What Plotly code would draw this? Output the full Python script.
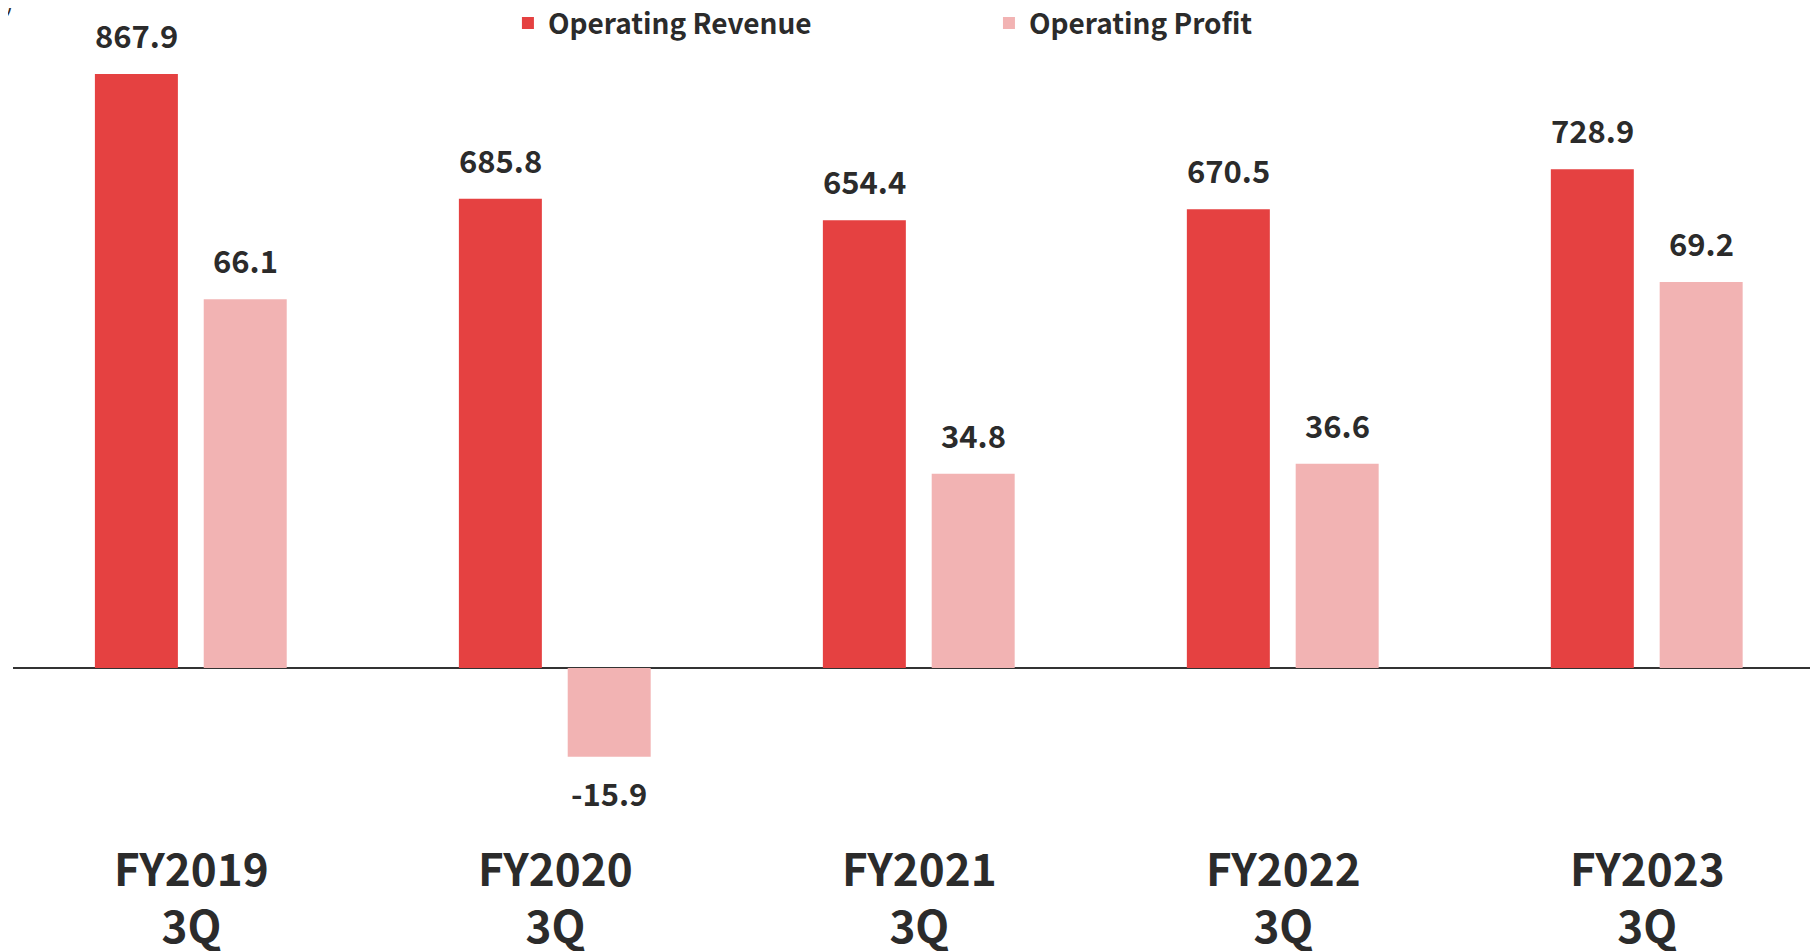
import plotly.graph_objects as go

categories = ["FY2019<br>3Q", "FY2020<br>3Q", "FY2021<br>3Q", "FY2022<br>3Q", "FY2023<br>3Q"]
revenue = [867.9, 685.8, 654.4, 670.5, 728.9]
profit = [66.1, -15.9, 34.8, 36.6, 69.2]
revenue_name = "Operating Revenue"
profit_name = "Operating Profit"
unit_label = "(Billion yen)"

RED = "#E54141"
PINK = "#F2B3B3"
TXT = "#2B2B2B"
FONT = "Noto Sans CJK JP"

W = 0.228
OFF_R = -0.265
OFF_P = 0.034

fig = go.Figure()
fig.add_trace(go.Bar(x=categories, y=revenue, name=revenue_name, width=W, offset=OFF_R,
                     marker=dict(color=RED, line=dict(width=0)), yaxis="y", legend="legend",
                     hoverinfo="y+name"))
fig.add_trace(go.Bar(x=categories, y=profit, name=profit_name, width=W, offset=OFF_P,
                     marker=dict(color=PINK, line=dict(width=0)), yaxis="y2", legend="legend2",
                     hoverinfo="y+name"))

annotations = []
for i, v in enumerate(revenue):
    annotations.append(dict(x=i + OFF_R + W / 2, y=v, xref="x", yref="y", text=f"{v:.1f}",
                            showarrow=False, yanchor="bottom", yshift=15,
                            font=dict(family=FONT, size=31, color=TXT, weight="bold")))
for i, v in enumerate(profit):
    annotations.append(dict(x=i + OFF_P + W / 2, y=v, xref="x", yref="y2", text=f"{v:.1f}",
                            showarrow=False, yanchor="bottom" if v >= 0 else "top",
                            yshift=15 if v >= 0 else -11,
                            font=dict(family=FONT, size=31, color=TXT, weight="bold")))
annotations.append(dict(x=0.00166, y=0.985, xref="paper", yref="paper", text=unit_label,
                        showarrow=False, xanchor="right", yanchor="bottom",
                        font=dict(family=FONT, size=24, color=TXT)))

legend_font = dict(family=FONT, size=28, color=TXT, weight="bold")

fig.update_layout(
    width=1810, height=943,
    margin=dict(l=5, r=0, t=0, b=143, autoexpand=False),
    paper_bgcolor="white", plot_bgcolor="white",
    barmode="overlay",
    showlegend=True,
    font=dict(family=FONT, color=TXT),
    xaxis=dict(type="category", range=[-0.49, 4.469], showgrid=False, zeroline=False,
               showline=False, ticks="", ticklabelstandoff=33,
               tickfont=dict(family=FONT, size=44, color=TXT, weight="bold")),
    yaxis=dict(range=[-204.6, 964.5], showgrid=False, showticklabels=False, showline=False,
               zeroline=True, zerolinecolor="#333333", zerolinewidth=2, ticks=""),
    yaxis2=dict(range=[-25.09, 118.3], overlaying="y", showgrid=False, showticklabels=False,
                showline=False, zeroline=False, ticks=""),
    legend=dict(orientation="h", x=0.2742, xanchor="left", y=1.012, yanchor="top",
                bgcolor="rgba(0,0,0,0)", font=legend_font),
    legend2=dict(orientation="h", x=0.5407, xanchor="left", y=1.012, yanchor="top",
                 bgcolor="rgba(0,0,0,0)", font=legend_font),
    annotations=annotations,
)

fig.write_html("out.html")
